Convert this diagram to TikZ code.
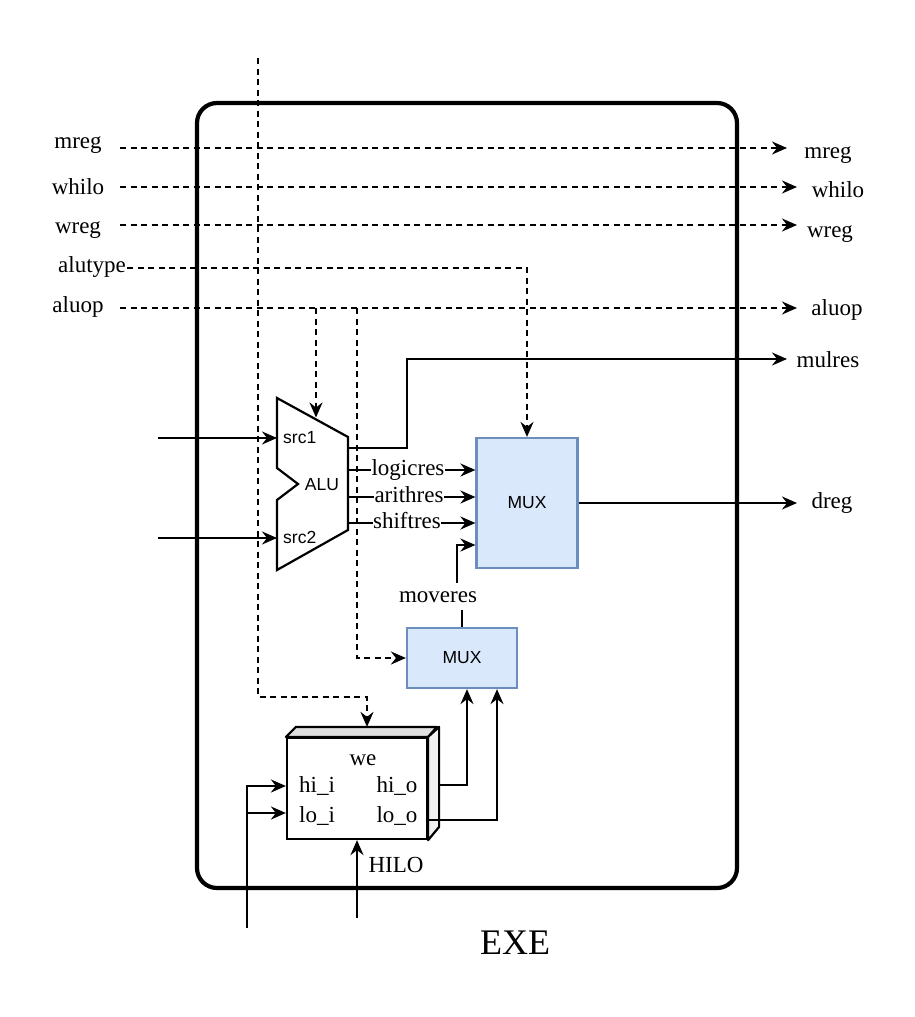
\documentclass[tikz,border=0pt]{standalone}
\usepackage{fontspec}
\setmainfont{Liberation Serif}
\setsansfont{Liberation Sans}
\usetikzlibrary{arrows.meta,calc}
\definecolor{muxfill}{HTML}{DAE8FC}
\definecolor{muxdraw}{HTML}{6C8EBF}
\begin{document}
\begin{tikzpicture}[x=1pt,y=-1pt,
  lbl/.style={font=\fontsize{23}{27}\selectfont, inner sep=0pt, anchor=base},
  sflbl/.style={font=\sffamily\fontsize{17.5}{21}\selectfont, inner sep=0pt, anchor=base},
  wire/.style={line width=2.2pt},
  dsh/.style={line width=2.2pt, dash pattern=on 6pt off 4.5pt},
  arr/.style={-{Stealth[length=15pt,width=13pt,inset=5pt]}},
  muxbox/.style={draw=muxdraw, fill=muxfill, line width=2.2pt, inner sep=0pt,
    font=\sffamily\fontsize{17.5}{21}\selectfont},
]
\fill[white] (0,0) rectangle (915,1017);
\useasboundingbox (0,0) rectangle (915,1017);

% outer EXE frame
\node[draw, line width=4.2pt, rounded corners=20pt, minimum width=540pt, minimum height=785pt, inner sep=0pt] (exe) at (467,495.5) {};
\node[font=\fontsize{36}{42}\selectfont, inner sep=0pt, anchor=base] (exelbl) at (515,954) {EXE};

% left labels
\node[lbl] (lmreg) at (78,148) {mreg};
\node[lbl] (lwhilo) at (78,194) {whilo};
\node[lbl] (lwreg) at (78,233) {wreg};
\node[lbl] (lalutype) at (92,272) {alutype};
\node[lbl] (laluop) at (78,312) {aluop};

% right labels
\node[lbl] (rmreg) at (828,158) {mreg};
\node[lbl] (rwhilo) at (838,197) {whilo};
\node[lbl] (rwreg) at (830,237) {wreg};
\node[lbl] (raluop) at (837,315) {aluop};
\node[lbl] (rmulres) at (828,367) {mulres};
\node[lbl] (rdreg) at (832,508) {dreg};

% line end coordinates
\coordinate (mregin) at (120,148);   \coordinate (mregout) at (787,148);
\coordinate (whiloin) at (120,187);  \coordinate (whiloout) at (797,187);
\coordinate (wregin) at (120,225);   \coordinate (wregout) at (797,225);
\coordinate (alutypein) at (127,268);
\coordinate (aluopin) at (120,308);  \coordinate (aluopout) at (797,308);
\coordinate (ab1) at (316,308);
\coordinate (ab2) at (357,308);
\coordinate (ctop) at (258,58);
\coordinate (in1) at (158,438);
\coordinate (in2) at (158,538);
\coordinate (mulout) at (787,359);
\coordinate (mulbend) at (407,359);
\coordinate (dregout) at (797,503);

% muxes
\node[muxbox, minimum width=101pt, minimum height=130pt] (mux1) at (527,503) {MUX};
\node[muxbox, minimum width=110pt, minimum height=60pt] (mux2) at (462,658) {MUX};

% ALU
\coordinate (aluA) at (277,398);
\coordinate (aluB) at (348,437);
\coordinate (aluC) at (348,530);
\coordinate (aluD) at (277,570);
\coordinate (aluE) at (277,500);
\coordinate (aluF) at (298,484);
\coordinate (aluG) at (277,468);
\draw[wire, line join=miter, fill=white] (aluA) -- (aluB) -- (aluC) -- (aluD) -- (aluE) -- (aluF) -- (aluG) -- cycle;
\node[sflbl] (alulbl) at (322,490) {ALU};
\node[sflbl, anchor=base west] (src1) at (283,443) {src1};
\node[sflbl, anchor=base west] (src2) at (283,543) {src2};
\coordinate (mulo) at (348,448);
\coordinate (logo) at (348,470);
\coordinate (arito) at (348,497);
\coordinate (shifo) at (348,523);
\coordinate (alutopin) at ($(aluA)!0.5!(aluB)$);

% HILO
\node[draw, line width=2.2pt, fill=white, minimum width=140pt, minimum height=101pt, inner sep=0pt] (hilo) at (357,788.5) {};
\draw[line width=2.2pt, fill=gray!25, line join=round] (hilo.north west) -- ++(10,-10) -- ++(141,0) -- (hilo.north east) -- cycle;
\draw[line width=2.2pt, fill=gray!12, line join=round] (hilo.north east) -- ++(11,-10) -- ++(0,100) -- (hilo.south east) -- cycle;
\node[lbl] (we) at (363,765) {we};
\node[lbl] (hii) at (317,792) {hi\_i};
\node[lbl] (loi) at (317,822) {lo\_i};
\node[lbl] (hio) at (397,792) {hi\_o};
\node[lbl] (loo) at (397,822) {lo\_o};
\node[lbl] (hilolbl) at (396,872) {HILO};
\coordinate (wein) at ([shift={(10,-10)}]hilo.north);
\coordinate (hin) at (247,928);
\coordinate (lobr) at (247,813);
\coordinate (hiloin) at (357,918);
\coordinate (hiout) at (438,785);
\coordinate (loout) at (427,820);

% dashed control lines
\draw[dsh,arr] (mregin) -- (mregout);
\draw[dsh,arr] (whiloin) -- (whiloout);
\draw[dsh,arr] (wregin) -- (wregout);
\draw[dsh,arr] (alutypein) -| (mux1.north);
\draw[dsh,arr] (aluopin) -- (aluopout);
\draw[dsh,arr] (ab1) -- (ab1 |- alutopin);
\draw[dsh,arr] (ab2) |- (mux2.west);
\draw[dsh,arr] (ctop) |- ([yshift=30pt]wein) -- (wein);

% ALU inputs
\draw[wire,arr] (in1) -- (in1 -| aluA);
\draw[wire,arr] (in2) -- (in2 -| aluA);

% ALU outputs
\draw[wire,arr] (mulo) -| (mulbend) -- (mulout);
\draw[wire,arr] (logo) -- (logo -| mux1.west);
\draw[wire,arr] (arito) -- (arito -| mux1.west);
\draw[wire,arr] (shifo) -- (shifo -| mux1.west);
\node[lbl, fill=white, inner xsep=0.5pt] (logicres) at (408,475) {logicres};
\node[lbl, fill=white, inner xsep=0.5pt] (arithres) at (409,502) {arithres};
\node[lbl, fill=white, inner xsep=0.5pt] (shiftres) at (407,528) {shiftres};

% moveres
\node[lbl, inner xsep=0pt, inner ysep=8pt] (moveres) at (438,602) {moveres};
\draw[wire] (mux2.north) -- (mux2.north |- moveres.south);
\draw[wire,arr] ([xshift=19pt]moveres.north) |- (mux1.west |- 0,545);

% dreg
\draw[wire,arr] (mux1.east) -- (dregout);

% HILO wiring
\draw[wire,arr] (hin) |- (hilo.west |- 0,786);
\draw[wire,arr] (lobr) -- (hilo.west |- lobr);
\draw[wire,arr] (hiloin) -- (hilo.south);
\draw[wire,arr] (hiout) -| ([xshift=5pt]mux2.south);
\draw[wire,arr] (loout) -| ([xshift=35pt]mux2.south);
\end{tikzpicture}
\end{document}
